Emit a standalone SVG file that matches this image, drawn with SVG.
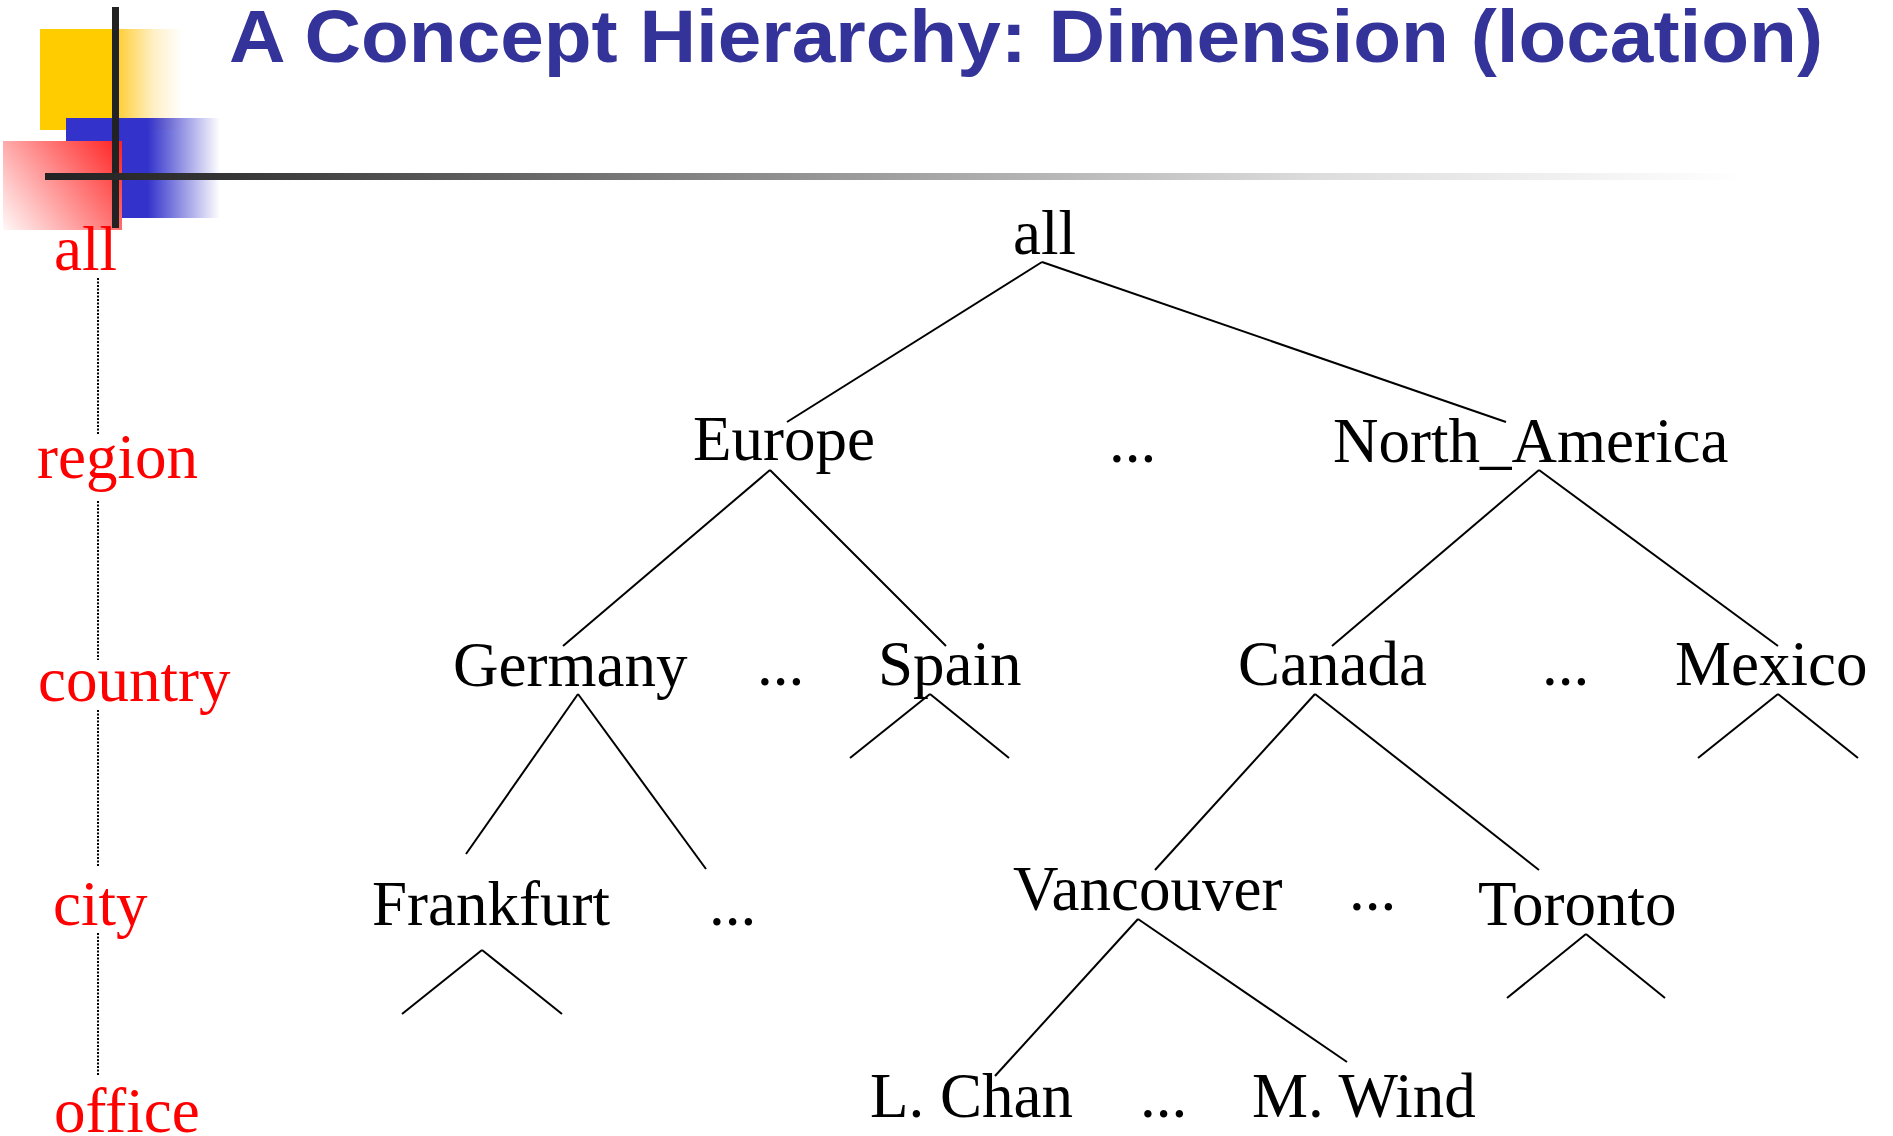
<svg xmlns="http://www.w3.org/2000/svg" width="1893" height="1136" viewBox="0 0 1893 1136">
<style>
.t{font-family:"Liberation Serif","Times New Roman",serif;font-size:63px;fill:#000}
.lv{font-family:"Liberation Serif","Times New Roman",serif;font-size:63px;fill:#FF0000}
.title{font-family:"Liberation Sans",Arial,sans-serif;font-weight:bold;font-size:74px;fill:#333399}
.c line{stroke:#000;stroke-width:2;fill:none}
.dot{stroke:#000;stroke-width:2;stroke-dasharray:2 1.5;fill:none}
</style>
<defs>
<linearGradient id="gy" x1="40" y1="0" x2="183" y2="0" gradientUnits="userSpaceOnUse">
<stop offset="0" stop-color="#FFCC00"/><stop offset="0.53" stop-color="#FFCC00"/><stop offset="0.56" stop-color="#FFD040"/><stop offset="0.8" stop-color="#FFF0C8"/><stop offset="1" stop-color="#FFFFFF"/>
</linearGradient>
<linearGradient id="gb" x1="66" y1="0" x2="220" y2="0" gradientUnits="userSpaceOnUse">
<stop offset="0" stop-color="#3333CC"/><stop offset="0.53" stop-color="#3333CC"/><stop offset="1" stop-color="#3333CC" stop-opacity="0"/>
</linearGradient>
<linearGradient id="gr" x1="122" y1="141" x2="3" y2="230" gradientUnits="userSpaceOnUse">
<stop offset="0" stop-color="#FF2020"/><stop offset="1" stop-color="#FFF8F8"/>
</linearGradient>
<linearGradient id="gh" x1="45" y1="0" x2="1745" y2="0" gradientUnits="userSpaceOnUse">
<stop offset="0" stop-color="#222222"/><stop offset="0.1" stop-color="#333333"/><stop offset="0.4" stop-color="#888888"/><stop offset="0.75" stop-color="#DDDDDD"/><stop offset="1" stop-color="#FFFFFF"/>
</linearGradient>
</defs>
<rect width="1893" height="1136" fill="#FFFFFF"/>
<g id="logo">
<rect x="40" y="29" width="143" height="101" fill="url(#gy)"/>
<rect x="66" y="118" width="154" height="100" fill="url(#gb)"/>
<rect x="3" y="141" width="119" height="89" fill="url(#gr)"/>
<rect x="112" y="7" width="7" height="221" fill="#222222"/>
<rect x="45" y="173" width="1700" height="7" fill="url(#gh)"/>
</g>
<text id="title" class="title" x="229" y="62" textLength="1594" lengthAdjust="spacingAndGlyphs">A Concept Hierarchy: Dimension (location)</text>
<g id="levels">
<text class="lv" x="54" y="270">all</text>
<text class="lv" x="37" y="478">region</text>
<text class="lv" x="38" y="701">country</text>
<text class="lv" x="53" y="925">city</text>
<text class="lv" x="54" y="1132">office</text>
<line class="dot" x1="98" y1="278" x2="98" y2="435"/>
<line class="dot" x1="98" y1="501" x2="98" y2="660"/>
<line class="dot" x1="98" y1="710" x2="98" y2="867"/>
<line class="dot" x1="98" y1="933" x2="98" y2="1075"/>
</g>
<g id="connectors" class="c">
<line x1="1042" y1="262" x2="787" y2="422"/>
<line x1="1042" y1="262" x2="1506" y2="422"/>
<line x1="770" y1="470" x2="563" y2="646"/>
<line x1="770" y1="470" x2="946" y2="646"/>
<line x1="930" y1="694" x2="850" y2="758"/>
<line x1="930" y1="694" x2="1009" y2="758"/>
<line x1="578" y1="694" x2="466" y2="854"/>
<line x1="578" y1="694" x2="706" y2="869"/>
<line x1="482" y1="950" x2="402" y2="1014"/>
<line x1="482" y1="950" x2="562" y2="1014"/>
<line x1="1539" y1="470" x2="1332" y2="646"/>
<line x1="1539" y1="470" x2="1778" y2="646"/>
<line x1="1778" y1="694" x2="1698" y2="758"/>
<line x1="1778" y1="694" x2="1858" y2="758"/>
<line x1="1315" y1="694" x2="1155" y2="870"/>
<line x1="1315" y1="694" x2="1539" y2="870"/>
<line x1="1138" y1="919" x2="995" y2="1076"/>
<line x1="1138" y1="919" x2="1347" y2="1062"/>
<line x1="1586" y1="934" x2="1507" y2="998"/>
<line x1="1586" y1="934" x2="1665" y2="998"/>
</g>
<g id="n-all"><text class="t" x="1013" y="254">all</text></g>
<g id="n-europe"><text class="t" x="693" y="460">Europe</text></g>
<g id="n-region-more"><text class="t" x="1109" y="462">...</text></g>
<g id="n-north-america"><text class="t" x="1333" y="462">North_America</text></g>
<g id="n-germany"><text class="t" x="453" y="686">Germany</text></g>
<g id="n-country-more1"><text class="t" x="757" y="685">...</text></g>
<g id="n-spain"><text class="t" x="878" y="685">Spain</text></g>
<g id="n-canada"><text class="t" x="1238" y="685">Canada</text></g>
<g id="n-country-more2"><text class="t" x="1542" y="685">...</text></g>
<g id="n-mexico"><text class="t" x="1675" y="685">Mexico</text></g>
<g id="n-frankfurt"><text class="t" x="372" y="925">Frankfurt</text></g>
<g id="n-city-more1"><text class="t" x="709" y="925">...</text></g>
<g id="n-vancouver"><text class="t" x="1013" y="910">Vancouver</text></g>
<g id="n-city-more2"><text class="t" x="1349" y="910">...</text></g>
<g id="n-toronto"><text class="t" x="1478" y="925">Toronto</text></g>
<g id="n-lchan"><text class="t" x="870" y="1117">L. Chan</text></g>
<g id="n-office-more"><text class="t" x="1140" y="1117">...</text></g>
<g id="n-mwind"><text class="t" x="1252" y="1117">M. Wind</text></g>
</svg>
